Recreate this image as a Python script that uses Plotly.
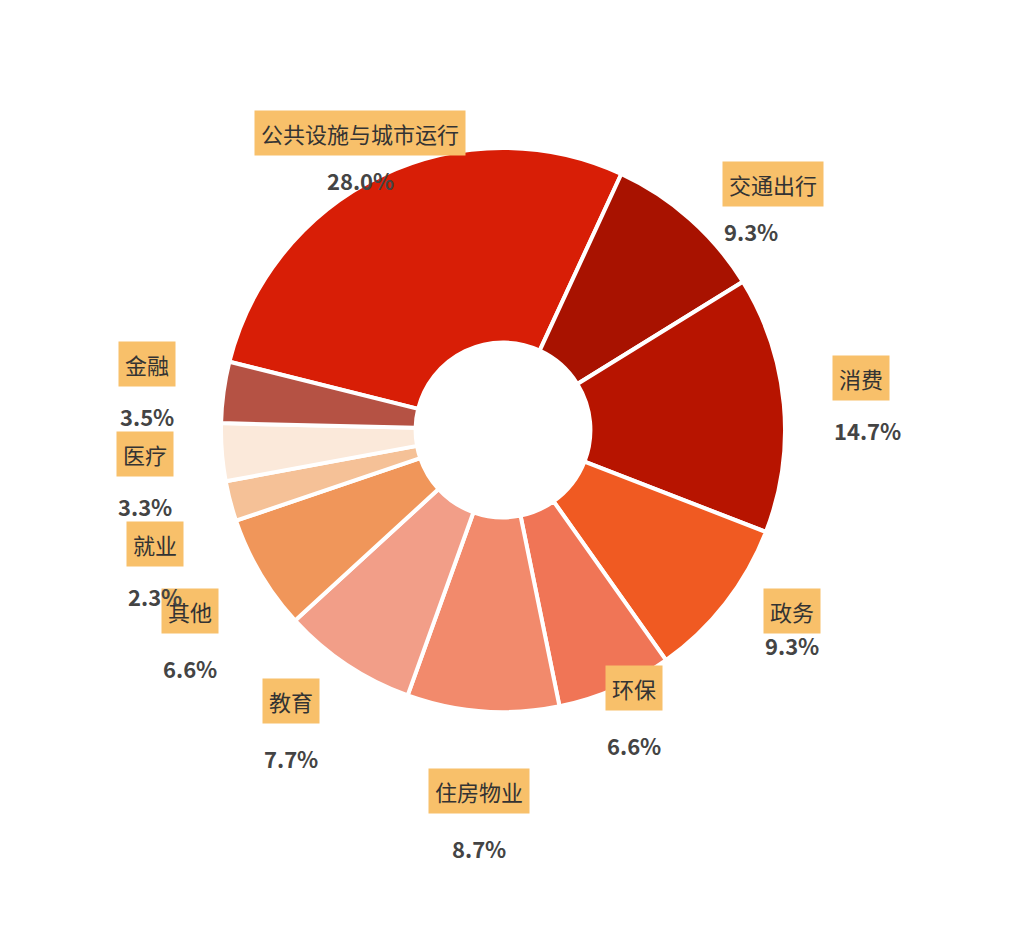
import math
import plotly.graph_objects as go

labels = ["公共设施与城市运行", "交通出行", "消费", "政务", "环保", "住房物业", "教育", "其他", "就业", "医疗", "金融"]
values = [28.0, 9.3, 14.7, 9.3, 6.6, 8.7, 7.7, 6.6, 2.3, 3.3, 3.5]
colors = ["#D81E06", "#A81200", "#B71400", "#F05A22", "#F07556", "#F28A6C",
          "#F29E88", "#F0965A", "#F5C197", "#FBE9DA", "#B55244"]

W, H = 1020, 930
cx, cy, R = 495, 422, 282
rot = -76

fig = go.Figure(go.Pie(
    labels=labels, values=values, sort=False, direction="clockwise", rotation=rot,
    hole=0.31, marker=dict(colors=colors, line=dict(color="white", width=4)),
    textinfo="none", showlegend=False,
    domain=dict(x=[(cx - R) / W, (cx + R) / W], y=[1 - (cy + R) / H, 1 - (cy - R) / H]),
))

total = sum(values)
acc = 0
pos = []
for lab, v in zip(labels, values):
    mid = rot + (acc + v / 2) / total * 360
    acc += v
    a = math.radians(mid)
    lr = 330
    pos.append([lab, v, cx + lr * math.sin(a), cy - lr * math.cos(a)])

# spread labels vertically on each side
for side in (lambda p: p[2] < cx, lambda p: p[2] >= cx):
    grp = sorted([p for p in pos if side(p)], key=lambda p: p[3])
    for i in range(1, len(grp)):
        if grp[i][3] - grp[i - 1][3] < 90:
            grp[i][3] = grp[i - 1][3] + 90

anns = []
for lab, v, px, py in pos:
    xa = "center"
    if px < cx - 150:
        xa = "right"
    elif px > cx + 150:
        xa = "left"
    anns.append(dict(x=px / W, y=1 - (py - 22) / H, xref="paper", yref="paper", xanchor=xa,
                     text=lab, showarrow=False, bgcolor="#F8C06A", borderpad=6,
                     font=dict(size=22, color="#333333", family="Noto Sans CJK SC")))
    anns.append(dict(x=px / W, y=1 - (py + 30) / H, xref="paper", yref="paper", xanchor=xa,
                     text=f"<b>{v:.1f}%</b>", showarrow=False,
                     font=dict(size=22, color="#444444", family="Noto Sans CJK SC")))

fig.update_layout(width=W, height=H, margin=dict(l=0, r=0, t=0, b=0),
                  paper_bgcolor="white", plot_bgcolor="white", annotations=anns,
                  font=dict(family="Noto Sans CJK SC"))
fig.write_html("out.html")
